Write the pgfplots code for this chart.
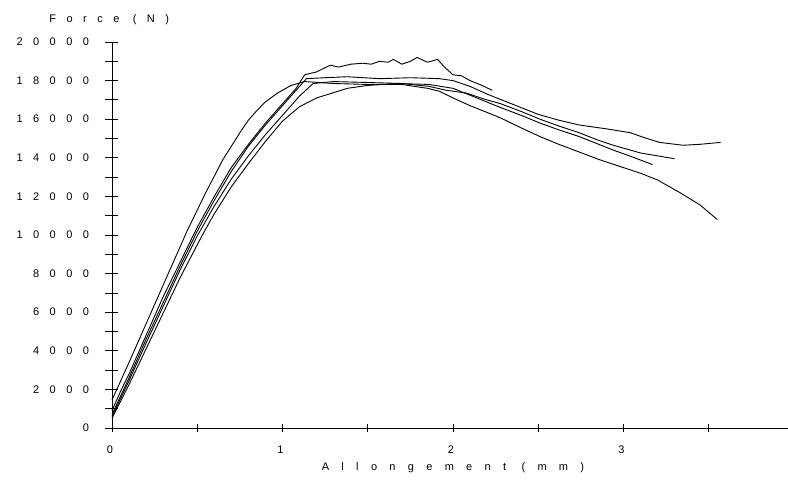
\documentclass[border=0pt]{standalone}
\usepackage{fontspec}
\newfontfamily\spfont{Liberation Sans}[LetterSpace=95]
\newfontfamily\spfontx{Liberation Sans}[LetterSpace=112]
\usepackage{pgfplots}
\pgfplotsset{compat=1.18}

\begin{document}
\begin{tikzpicture}
\useasboundingbox (-112pt,-57pt) rectangle (676pt,428pt);
\clip (-112pt,-57pt) rectangle (676pt,428pt);
\begin{axis}[
  at={(0,0)}, anchor=south west,
  scale only axis, width=682pt, height=386pt,
  xmin=0, xmax=4, ymin=0, ymax=20000,
  axis lines=left,
  axis line style={-, black, line width=0.8pt},
  xtick={0,1,2,3,4}, minor xtick={0.5,1.5,2.5,3.5},
  ytick={0,2000,...,20000}, minor ytick={1000,3000,...,19000},
  tick align=center,
  major tick length=13pt, minor tick length=13pt,
  xtick style={/pgfplots/major tick length=8pt, /pgfplots/minor tick length=8pt},
  tick style={black, line width=0.8pt},
  /pgf/number format/assume math mode=true,
  /pgf/number format/1000 sep={},
  scaled y ticks=false,
  ticklabel style={font=\fontsize{11}{13}\selectfont\spfont},
  xticklabel style={yshift=-8pt, xshift=-2pt},
  yticklabel style={xshift=-13pt},
  xlabel={Allongement (mm)},
  ylabel={Force (N)},
  xlabel style={font=\fontsize{11}{13}\selectfont\spfontx, at={(rel axis cs:0.5,-0.104)}, anchor=center},
  ylabel style={font=\fontsize{11}{13}\selectfont\spfont, at={(rel axis cs:-0.004,1.058)}, anchor=center, rotate=-90},
  clip=false,
  curve/.style={black, line width=0.9pt, mark=none},
]
% A: wavy top curve
\addplot[curve] coordinates {
(0,900)(0.05,1900)(0.1,2800)(0.15,3800)(0.2,4800)(0.3,6800)(0.4,8600)(0.5,10400)(0.6,12000)(0.7,13500)(0.8,14700)(0.9,15800)(1.0,16800)(1.08,17600)(1.13,18300)(1.2,18450)(1.28,18800)(1.33,18700)(1.4,18850)(1.47,18900)(1.52,18850)(1.57,19000)(1.62,18950)(1.65,19100)(1.7,18850)(1.75,19000)(1.79,19200)(1.85,18950)(1.91,19100)(1.95,18700)(2.0,18300)(2.05,18250)(2.1,18000)(2.17,17750)(2.23,17500)
};
% B
\addplot[curve] coordinates {
(0,700)(0.1,2600)(0.2,4600)(0.3,6500)(0.4,8400)(0.5,10200)(0.6,11800)(0.7,13300)(0.8,14600)(0.9,15700)(1.0,16700)(1.1,17700)(1.14,18100)(1.25,18150)(1.38,18200)(1.57,18100)(1.75,18150)(1.92,18100)(2.0,18000)(2.1,17700)(2.2,17300)(2.3,16950)(2.4,16600)(2.5,16250)(2.62,15950)(2.74,15700)(2.9,15500)(3.04,15300)(3.12,15050)(3.21,14800)(3.35,14650)(3.45,14700)(3.57,14800)
};
% C
\addplot[curve] coordinates {
(0,600)(0.1,2450)(0.2,4400)(0.3,6300)(0.4,8200)(0.5,9950)(0.6,11500)(0.7,12900)(0.8,14100)(0.9,15200)(1.0,16200)(1.1,17200)(1.18,17850)(1.3,17950)(1.51,17900)(1.7,17850)(1.86,17700)(1.96,17500)(2.08,17350)(2.18,17050)(2.28,16800)(2.4,16400)(2.51,16000)(2.62,15650)(2.74,15300)(2.84,14950)(2.94,14650)(3.02,14450)(3.10,14250)(3.2,14100)(3.30,13950)
};
% D
\addplot[curve] coordinates {
(0,500)(0.1,2250)(0.2,4100)(0.3,5950)(0.4,7800)(0.53,10000)(0.6,11100)(0.7,12500)(0.8,13700)(0.9,14850)(1.0,15900)(1.1,16650)(1.2,17100)(1.38,17600)(1.5,17750)(1.67,17850)(1.86,17800)(2.0,17600)(2.14,17100)(2.28,16600)(2.4,16200)(2.51,15800)(2.62,15450)(2.74,15100)(2.84,14750)(2.94,14400)(3.05,14050)(3.17,13650)
};
% E
\addplot[curve] coordinates {
(0,1450)(0.1,3400)(0.2,5400)(0.3,7400)(0.44,10200)(0.55,12200)(0.65,13900)(0.75,15300)(0.8,15950)(0.85,16450)(0.9,16900)(0.97,17350)(1.05,17750)(1.13,17950)(1.3,17850)(1.5,17800)(1.7,17800)(1.85,17600)(1.92,17450)(2.0,17100)(2.1,16700)(2.2,16350)(2.28,16060)(2.4,15550)(2.51,15100)(2.62,14700)(2.74,14300)(2.86,13900)(2.98,13550)(3.1,13200)(3.2,12850)(3.33,12200)(3.45,11550)(3.55,10800)
};
\end{axis}
\end{tikzpicture}
\end{document}
